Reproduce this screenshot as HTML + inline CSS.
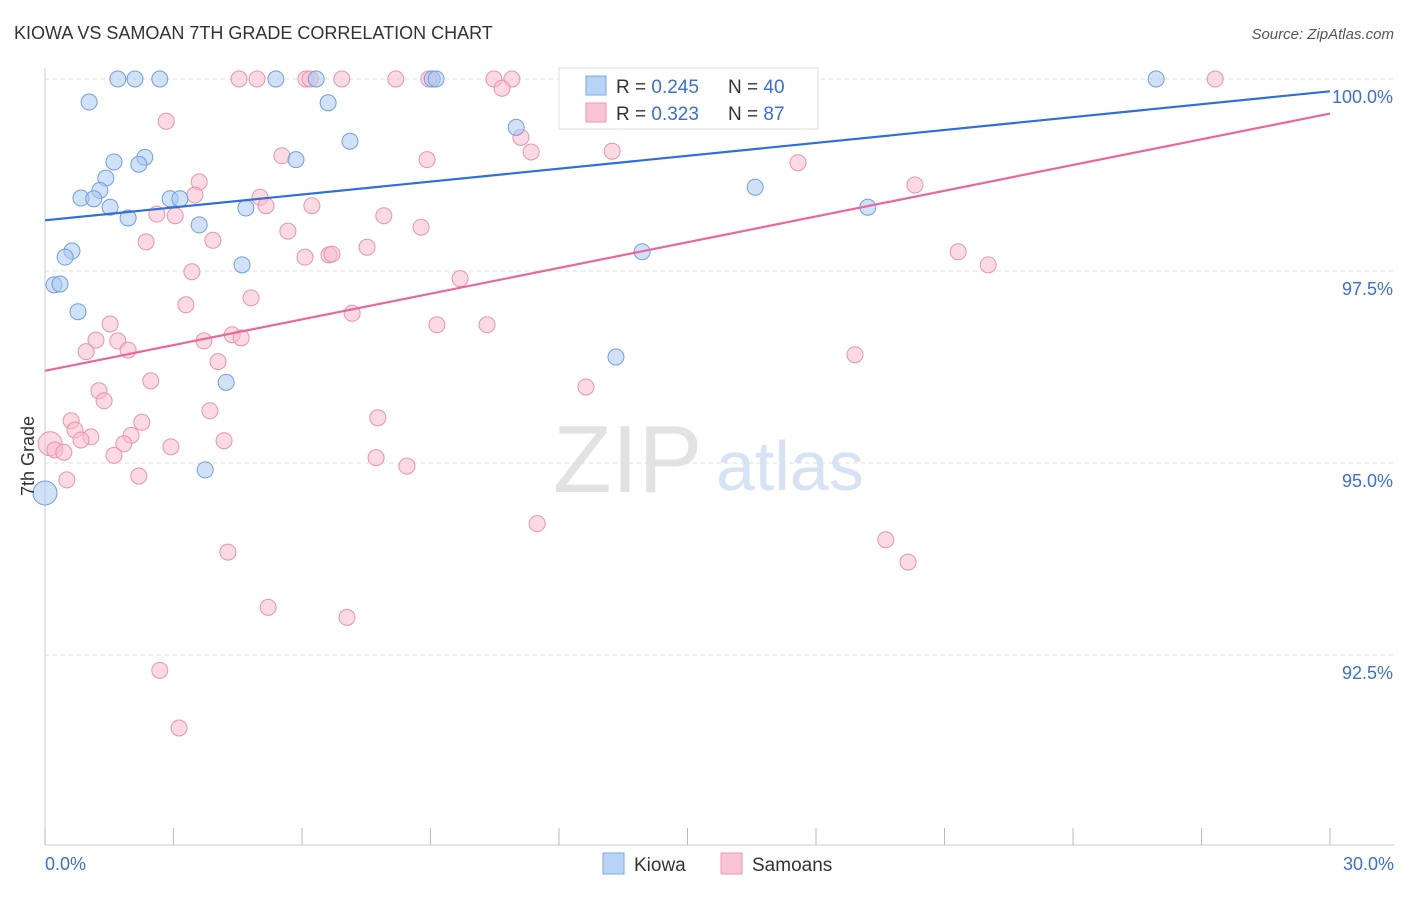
<!DOCTYPE html>
<html><head><meta charset="utf-8"><style>
body{margin:0;background:#fff;font-family:"Liberation Sans",sans-serif}
svg text{font-family:"Liberation Sans",sans-serif}
</style></head><body>
<svg id="chart" width="1406" height="892" xmlns="http://www.w3.org/2000/svg">
<text x="14" y="39" font-size="18" fill="#333">KIOWA VS SAMOAN 7TH GRADE CORRELATION CHART</text>
<text x="1394" y="39" font-size="15" fill="#555" font-style="italic" text-anchor="end">Source: ZipAtlas.com</text>
<g>
<text x="553" y="492" font-size="96" fill="#e2e2e2" font-family="Liberation Serif,serif">ZIP</text>
<text x="716" y="490" font-size="70" fill="#d6e3f4">atlas</text>
</g>
<g id="grid"></g>
<g id="axes"></g>
<g id="marks"></g>
<g id="trends"></g>
<text x="34" y="456" font-size="18" fill="#333" text-anchor="middle" transform="rotate(-90 34 456)">7th Grade</text>
<g>
<rect x="559" y="68" width="259" height="61" fill="#fff" stroke="#ddd"/>
<rect x="586" y="76" width="20" height="19" fill="#b8d3f5" stroke="#7aa8e4"/>
<rect x="586" y="103" width="20" height="19" fill="#f9c5d4" stroke="#eb98b1"/>
<text x="616" y="93" font-size="19" fill="#333">R = <tspan fill="#3b6fd4">0.245</tspan><tspan x="728">N = </tspan><tspan fill="#3b6fd4">40</tspan></text>
<text x="616" y="120" font-size="19" fill="#333">R = <tspan fill="#3b6fd4">0.323</tspan><tspan x="728">N = </tspan><tspan fill="#3b6fd4">87</tspan></text>
</g>
<g>
<rect x="603" y="853" width="21" height="21" fill="#b8d3f5" stroke="#7aa8e4"/>
<text x="634" y="871" font-size="19" fill="#333">Kiowa</text>
<rect x="721" y="853" width="21" height="21" fill="#f9c5d4" stroke="#eb98b1"/>
<text x="752" y="871" font-size="19" fill="#333">Samoans</text>
</g>
</svg>
<script>
const yTicks=[100,97.5,95,92.5];
const yTickLabels=["100.0%","97.5%","95.0%","92.5%"];
const xEndLabels=["0.0%","30.0%"];
const kiowaX=[1.70,2.10,2.68,5.39,6.33,9.04,9.13,16.18,25.94,1.03,6.61,7.12,11.00,2.33,1.61,2.19,5.86,1.42,1.28,0.84,1.14,1.52,2.92,3.15,4.69,1.94,3.60,16.58,19.21,0.63,0.47,13.94,4.60,0.21,0.35,0.77,13.33,4.23,3.74,0];
const kiowaY=[100,100,100,100,100,100,100,100,100,99.70,99.69,99.19,99.37,98.98,98.92,98.89,98.95,98.71,98.55,98.45,98.44,98.33,98.44,98.44,98.32,98.19,98.10,98.59,98.33,97.76,97.68,97.75,97.58,97.32,97.33,96.97,96.38,96.05,94.91,94.61];
const samoanX=[4.53,4.95,6.09,6.19,6.93,8.19,8.96,10.48,10.90,12.33,14.03,27.32,10.67,2.83,11.11,11.35,13.24,5.53,8.92,17.58,3.60,3.50,5.02,5.16,6.23,2.61,3.04,7.91,8.78,5.67,2.36,3.92,7.52,6.63,6.07,6.70,21.32,22.02,3.43,9.69,4.81,3.29,7.17,1.52,9.15,10.32,1.19,1.70,3.71,4.37,4.58,1.94,0.96,4.04,18.91,2.47,12.63,1.26,1.38,3.85,7.77,0.61,2.26,0.70,1.07,2.01,0.84,1.84,4.18,0.12,0.23,0.44,1.61,2.94,7.73,8.45,2.19,0.51,11.49,19.63,4.27,20.15,5.21,7.05,2.68,3.13,20.31];
const samoanY=[100,100,100,100,100,100,100,100,100,100,100,100,99.88,99.45,99.24,99.05,99.06,99.00,98.95,98.91,98.66,98.49,98.46,98.35,98.35,98.24,98.22,98.22,98.07,98.02,97.88,97.90,97.81,97.71,97.68,97.72,97.75,97.58,97.49,97.40,97.15,97.06,96.95,96.81,96.80,96.80,96.60,96.59,96.59,96.67,96.63,96.47,96.45,96.32,96.41,96.07,95.99,95.94,95.81,95.68,95.59,95.55,95.53,95.43,95.34,95.36,95.30,95.25,95.29,95.25,95.17,95.14,95.10,95.21,95.07,94.96,94.83,94.78,94.21,94.00,93.84,93.71,93.12,92.99,92.30,91.55,98.62];
const kiowaTrend=[98.16,99.84];
const samoanTrend=[96.20,99.55];
const NS="http://www.w3.org/2000/svg";
const xS=v=>45+v/30*1285;
const yS=v=>79+(100-v)*76.8;
function mk(tag,attrs,parent){const e=document.createElementNS(NS,tag);for(const k in attrs)e.setAttribute(k,attrs[k]);parent.appendChild(e);return e;}
const grid=document.getElementById('grid'),axes=document.getElementById('axes'),marks=document.getElementById('marks'),trends=document.getElementById('trends');
yTicks.forEach((t,i)=>{
 const l=mk('line',{x1:45,x2:1394,y1:yS(t),y2:yS(t),stroke:'#ddd','stroke-dasharray':'4,4'},grid);
 
 
 const tx=mk('text',{x:1393,y:yS(t)+24,'font-size':18,fill:'#3b6fd4','text-anchor':'end'},axes);
 tx.textContent=yTickLabels[i];
 
 
});
const ax=mk('line',{x1:45,x2:45,y1:68,y2:845,stroke:'#ccc'},axes);


const bx=mk('line',{x1:45,x2:1394,y1:845,y2:845,stroke:'#ccc'},axes);


for(let i=0;i<=10;i++){
 const x=xS(i*3);
 const t=mk('line',{x1:x,x2:x,y1:828,y2:845,stroke:'#bbb'},axes);
 
 
}
[[0,'start',45],[30,'end',1394]].forEach((d,i)=>{
 const t=mk('text',{x:d[2],y:870,'font-size':18,fill:'#3b6fd4','text-anchor':d[1]},axes);
 t.textContent=xEndLabels[i];
 
 
});
function dots(xs,ys,fill,stroke,name){
 xs.forEach((x,i)=>{
  const big=(name==='samoan-point'&&i===69)||(name==='kiowa-point'&&i===39);
  const c=mk('circle',{cx:xS(x),cy:yS(ys[i]),r:big?12:8,fill:fill,'fill-opacity':0.55,stroke:stroke,'stroke-width':1},marks);
  
  
 });
}
dots(samoanX,samoanY,'#f7bccd','#e993ad','samoan-point');
dots(kiowaX,kiowaY,'#abc9f0','#6e9fe0','kiowa-point');
const bl=mk('line',{x1:xS(0),y1:yS(kiowaTrend[0]),x2:xS(30),y2:yS(kiowaTrend[1]),stroke:'#2e6fd8','stroke-width':2.2},trends);


const pl=mk('line',{x1:xS(0),y1:yS(samoanTrend[0]),x2:xS(30),y2:yS(samoanTrend[1]),stroke:'#e8689a','stroke-width':2.2},trends);


</script>
</body></html>
